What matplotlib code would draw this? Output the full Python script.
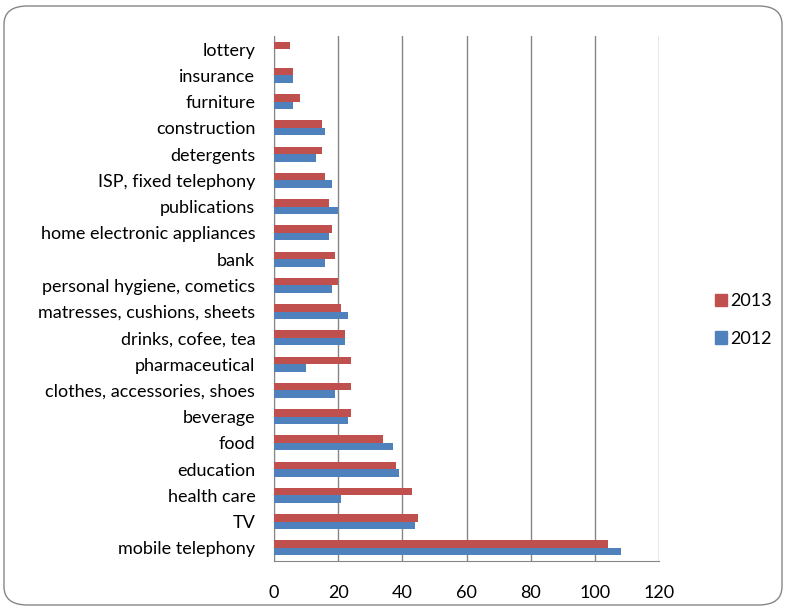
import numpy as np
import matplotlib.pyplot as plt
from matplotlib.patches import FancyBboxPatch, Patch

plt.rcParams["font.family"] = ["Lato", "DejaVu Sans"]

# categories listed bottom to top
categories = [
    "mobile telephony", "TV", "health care", "education", "food", "beverage",
    "clothes, accessories, shoes", "pharmaceutical", "drinks, cofee, tea",
    "matresses, cushions, sheets", "personal hygiene, cometics", "bank",
    "home electronic appliances", "publications", "ISP, fixed telephony",
    "detergents", "construction", "furniture", "insurance", "lottery",
]
values_2013 = [104, 45, 43, 38, 34, 24, 24, 24, 22, 21, 20, 19, 18, 17, 16, 15, 15, 8, 6, 5]
values_2012 = [108, 44, 21, 39, 37, 23, 19, 10, 22, 23, 18, 16, 17, 20, 18, 13, 16, 6, 6, 0]
xticks = [0, 20, 40, 60, 80, 100, 120]

red = "#C0504D"
blue = "#4F81BD"
grid_col = "#868686"
fs = 13

fig = plt.figure(figsize=(7.87, 6.12), dpi=100)
W, H = 787, 612

# rounded frame around the chart
frame = FancyBboxPatch((4 / W, 7 / H), 778 / W, 599 / H,
                       boxstyle="round,pad=0,rounding_size=0.03",
                       transform=fig.transFigure, fill=False,
                       edgecolor="#868686", linewidth=1.0)
fig.patches.append(frame)

ax = fig.add_axes([274 / W, 1 - 561 / H, (659 - 274) / W, (561 - 36) / H])

y = np.arange(len(categories))
h = 0.286
ax.barh(y + h / 2, values_2013, height=h, color=red, label="2013", zorder=3)
ax.barh(y - h / 2, values_2012, height=h, color=blue, label="2012", zorder=3)

ax.set_xlim(0, 120)
ax.set_ylim(-0.5, len(categories) - 0.5)
ax.set_xticks(xticks)
ax.set_yticks(y)
ax.set_yticklabels(categories)
ax.tick_params(axis="both", length=0, labelsize=fs, colors="black")
ax.tick_params(axis="y", pad=13.5)
ax.tick_params(axis="x", pad=17)

ax.grid(axis="x", color=grid_col, linewidth=1.0, zorder=0)
for side in ["top", "right"]:
    ax.spines[side].set_visible(False)
ax.spines["left"].set_color(grid_col)
ax.spines["bottom"].set_color(grid_col)

handles = [Patch(color=red, label="2013"), Patch(color=blue, label="2012")]
fig.legend(handles=handles, loc="center left", bbox_to_anchor=(699 / W, 1 - 320 / H),
           frameon=False, fontsize=fs, handlelength=0.65, handleheight=0.65,
           labelspacing=1.2, handletextpad=0.2)

fig.savefig("out.png", dpi=100)
